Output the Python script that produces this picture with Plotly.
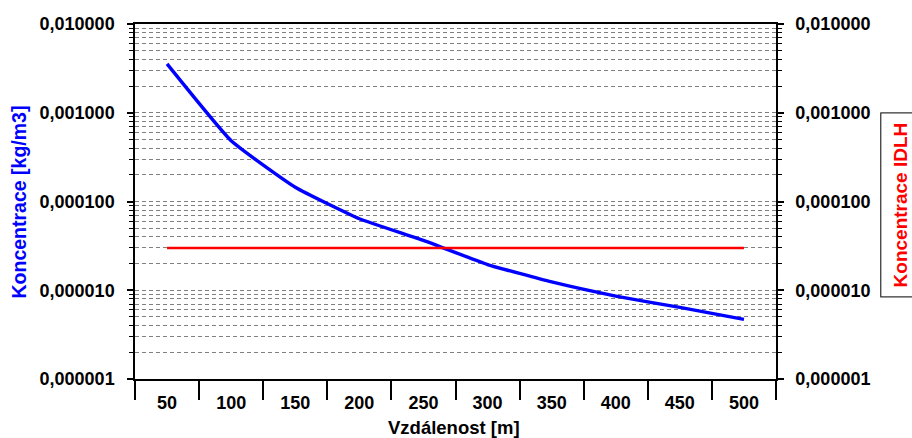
import plotly.graph_objects as go

distances = ["50", "100", "150", "200", "250", "300", "350", "400", "450", "500"]
concentration = [3.55e-3, 4.84e-4, 1.45e-4, 6.4e-5, 3.65e-5, 1.95e-5, 1.24e-5, 8.6e-6, 6.4e-6, 4.69e-6]
idlh = [3e-5] * 10

major_vals = [1e-6, 1e-5, 1e-4, 1e-3, 1e-2]
major_text = ["0,000001", "0,000010", "0,000100", "0,001000", "0,010000"]
minor_vals = [m * d for d in [1e-6, 1e-5, 1e-4, 1e-3] for m in range(2, 10)]

FONT = "Liberation Sans, Arial, sans-serif"
tickfont = dict(family=FONT, size=18, color="black")

fig = go.Figure()
fig.add_trace(go.Scatter(x=distances, y=concentration, mode="lines",
                         line=dict(color="#0000ff", width=3.4, shape="spline", smoothing=0.4),
                         xaxis="x", yaxis="y", showlegend=False))
fig.add_trace(go.Scatter(x=distances, y=idlh, mode="lines",
                         line=dict(color="#ff0000", width=2.5), xaxis="x2", yaxis="y2",
                         showlegend=False))

yrange = [-6, -2]
bold_major = ["<b>%s</b>" % t for t in major_text]
bold_dist = ["<b>%s</b>" % d for d in distances]

fig.update_layout(
    width=912, height=438,
    margin=dict(l=135, r=136, t=24, b=59),
    paper_bgcolor="white", plot_bgcolor="white",
    font=dict(family=FONT, color="black"),
    xaxis=dict(type="category", range=[-0.5, 9.5], ticks="", showline=True,
               linecolor="black", linewidth=1.5, mirror=True,
               tickvals=distances, ticktext=bold_dist, ticklabelstandoff=7,
               tickfont=tickfont, showgrid=False, tickangle=0),
    xaxis2=dict(type="category", range=[-0.5, 9.5], overlaying="x", anchor="y",
                side="bottom", ticks="outside", tickson="boundaries", ticklen=20,
                tickwidth=1.5, tickcolor="black", showticklabels=False, showgrid=False,
                showline=False),
    yaxis=dict(type="log", range=yrange, tickvals=major_vals, ticktext=bold_major,
               tickfont=tickfont, ticks="outside", ticklen=6, tickwidth=1.5,
               tickcolor="black", showline=True, linecolor="black", linewidth=1.5,
               zeroline=False, ticklabelstandoff=9,
               showgrid=True, gridcolor="#808080", griddash="4px,3px", gridwidth=1,
               minor=dict(tickvals=minor_vals, ticks="outside", ticklen=4,
                          tickcolor="black", tickwidth=1, showgrid=True,
                          gridcolor="#808080", griddash="4px,3px", gridwidth=1)),
    yaxis2=dict(type="log", range=yrange, overlaying="y", side="right", anchor="x",
                tickvals=major_vals, ticktext=bold_major, tickfont=tickfont,
                ticks="outside", ticklen=6, tickwidth=1.5, tickcolor="black",
                showline=True, linecolor="black", linewidth=1.5, showgrid=False,
                zeroline=False, ticklabelstandoff=8,
                minor=dict(tickvals=minor_vals, ticks="outside", ticklen=4,
                           tickcolor="black", tickwidth=1, showgrid=False)),
    annotations=[
        dict(text="<b>Koncentrace [kg/m3]</b>", xref="paper", yref="paper",
             x=-0.181, y=0.5, textangle=-90, showarrow=False,
             font=dict(family=FONT, size=19.5, color="#0000ff"),
             xanchor="center", yanchor="middle"),
        dict(text="<b>Koncentrace IDLH</b>", xref="paper", yref="paper",
             x=1.194, y=0.49, textangle=-90, showarrow=False,
             font=dict(family=FONT, size=19, color="#ff0000"),
             xanchor="center", yanchor="middle",
             bordercolor="black", borderwidth=1, borderpad=9),
        dict(text="<b>Vzdálenost [m]</b>", xref="paper", yref="paper",
             x=0.497, y=-0.138, showarrow=False,
             font=dict(family=FONT, size=18.5, color="black"),
             xanchor="center", yanchor="middle"),
    ],
)

fig.write_html("out.html", config={"displayModeBar": False},
               post_script="document.body.style.margin='0px';document.body.style.overflow='hidden';")
